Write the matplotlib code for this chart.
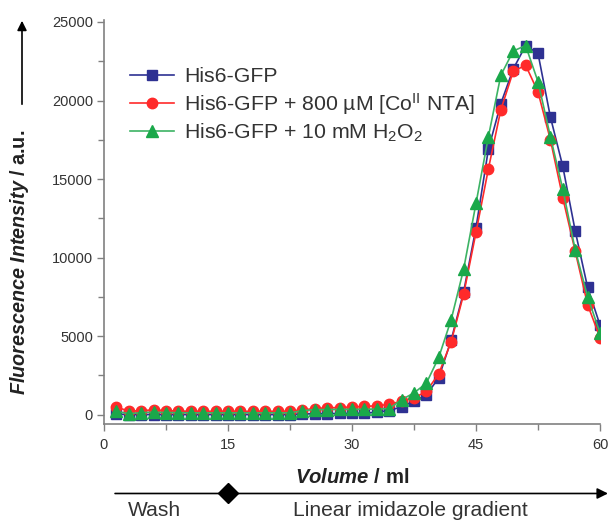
import matplotlib
matplotlib.use("Agg")
import matplotlib.pyplot as plt
from matplotlib.ticker import MultipleLocator

plt.rcParams['font.family'] = ['Liberation Sans', 'DejaVu Sans']
plt.rcParams['mathtext.fontset'] = 'custom'
plt.rcParams['mathtext.rm'] = 'Liberation Sans'
plt.rcParams['mathtext.it'] = 'Liberation Sans:italic'
plt.rcParams['mathtext.bf'] = 'Liberation Sans:bold'
plt.rcParams['mathtext.bfit'] = 'Liberation Sans:italic:bold'

# ---- data ----
volume = [1.5 * i for i in range(1, 41)]
his6_gfp = [30, 0, 0, 0, 0, 0, 0, 0, 0, 0, 0, 0, 0, 0, 0,
            40, 50, 60, 70, 80, 90, 150, 250, 500, 850, 1250, 2350, 4750,
            7800, 11900, 16900, 19800, 22000, 23500, 23000, 18950, 15800,
            11700, 8100, 5700]
his6_gfp_co = [480, 220, 250, 300, 250, 220, 200, 200, 200, 200, 200, 200,
               200, 200, 200, 300, 380, 430, 450, 480, 520, 560, 650, 850,
               1060, 1480, 2600, 4650, 7650, 11600, 15650, 19400, 21850,
               22250, 20550, 17500, 13800, 10400, 7000, 4900]
his6_gfp_h2o2 = [200, 60, 120, 150, 130, 120, 110, 110, 110, 110, 110, 110,
                 110, 110, 110, 250, 320, 320, 330, 340, 340, 350, 380, 950,
                 1380, 2000, 3650, 6050, 9250, 13450, 17700, 21600, 23150,
                 23500, 21200, 17700, 14350, 10500, 7500, 5200]
labels = ["His6-GFP",
          r"His6-GFP + 800 µM [Co$^{\mathrm{II}}$ NTA]",
          r"His6-GFP + 10 mM H$_2$O$_2$"]
xticks = [0, 15, 30, 45, 60]
yticks = [0, 5000, 10000, 15000, 20000, 25000]

# ---- figure ----
fig = plt.figure(figsize=(6.12, 5.22), dpi=100)
W, H = 612, 522
ax = fig.add_axes([104 / W, (H - 424) / H, (600 - 104) / W, (424 - 20) / H])

blue = '#2e3192'
red = '#ff2a2a'
green = '#1aa84a'

ax.plot(volume, his6_gfp, '-s', color=blue, lw=1.2, ms=6.5,
        mfc=blue, mec=blue, label=labels[0], zorder=3)
ax.plot(volume, his6_gfp_co, '-o', color=red, lw=1.2, ms=7.5,
        mfc=red, mec=red, label=labels[1], zorder=4)
ax.plot(volume, his6_gfp_h2o2, '-^', color='#3cb364', lw=1.2, ms=8,
        mfc=green, mec=green, label=labels[2], zorder=5)

ax.set_xlim(0, 60)
ax.set_ylim(-600, 25000 + (2 / 393) * 25000)
ax.set_xticks(xticks)
ax.set_yticks(yticks)
ax.xaxis.set_minor_locator(MultipleLocator(7.5))
ax.yaxis.set_minor_locator(MultipleLocator(2500))

for s in ['top', 'right']:
    ax.spines[s].set_visible(False)
for s in ['left', 'bottom']:
    ax.spines[s].set_color('#808080')
    ax.spines[s].set_linewidth(1.2)

ax.tick_params(axis='both', which='both', direction='out', color='#808080',
               labelcolor='#333333', labelsize=10.5, width=1.0)
ax.tick_params(axis='x', which='major', length=5, pad=5)
ax.tick_params(axis='y', which='major', length=5, pad=3)
ax.tick_params(axis='both', which='minor', length=4)

leg = ax.legend(loc='upper left', bbox_to_anchor=(0.052, 0.8826),
                frameon=False, fontsize=15.3, handlelength=2.07,
                handletextpad=0.47, labelspacing=0.22, borderpad=0,
                borderaxespad=0, labelcolor='#333333')

# axis labels
ax.text(0.5, -0.132, r"$\mathbfit{Volume}$ / ml", transform=ax.transAxes,
        ha='center', va='center', fontsize=14.6, fontweight='bold',
        color='#222222')
fig.text(20 / W, (H - 262) / H,
         r"$\mathbfit{Fluorescence\ Intensity}$ / a.u.",
         rotation=90, ha='center', va='center', fontsize=14.2,
         fontweight='bold', color='#222222')

# y-direction arrow
fig.add_artist(matplotlib.patches.FancyArrowPatch(
    (22 / W, (H - 107) / H), (22 / W, (H - 18) / H),
    transform=fig.transFigure, arrowstyle='-|>', mutation_scale=14,
    color='black', lw=1.2))

# bottom arrow with diamond
trans = ax.get_xaxis_transform()
ax.annotate('', xy=(61.3, -0.172), xytext=(1.0, -0.172), xycoords=trans,
            textcoords=trans, annotation_clip=False,
            arrowprops=dict(arrowstyle='-|>', mutation_scale=16,
                            color='black', lw=1.2))
ax.plot([15], [-0.172], marker='D', ms=10, color='black', transform=trans,
        clip_on=False, zorder=6)
ax.text(6.05, -0.214, 'Wash', transform=trans, ha='center', va='center',
        fontsize=15.1, color='#333333')
ax.text(37.1, -0.214, 'Linear imidazole gradient', transform=trans,
        ha='center', va='center', fontsize=15.1, color='#333333')

fig.savefig('out.png', dpi=100)
